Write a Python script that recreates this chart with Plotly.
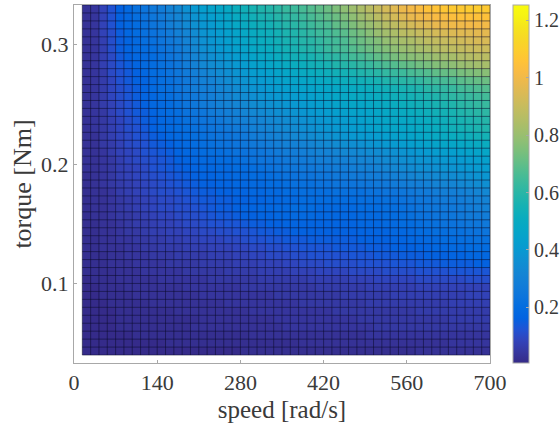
import plotly.graph_objects as go

speed_edges = [14 * i for i in range(1, 51)]
torque_edges = [0.04 + i / 150 for i in range(45)]

x_ticks = [0, 140, 280, 420, 560, 700]
y_ticks = [0.1, 0.2, 0.3]
cbar_ticks = [0.2, 0.4, 0.6, 0.8, 1.0, 1.2]
cbar_labels = ["0.2", "0.4", "0.6", "0.8", "1", "1.2"]

# Cell values in hundredths, listed from the top row (highest torque) downwards
cells_top_down = [
[3,4,8,12,16,19,22,24,26,28,31,33,37,40,43,45,47,49,52,54,56,58,59,61,63,64,66,68,70,72,75,78,81,84,87,90,93,96,99,101,103,105,106,107,108,108,109,109,108],
[3,4,8,12,16,18,21,23,25,27,30,32,35,38,41,43,45,47,50,52,54,56,57,59,61,62,64,66,68,70,72,75,78,81,84,87,90,93,96,98,100,101,102,103,104,105,105,105,105],
[3,4,8,12,16,18,20,22,24,26,29,31,34,37,39,41,44,46,48,50,52,54,55,57,59,60,62,64,66,67,70,72,75,78,80,83,86,88,91,93,95,96,98,99,100,100,101,101,101],
[3,4,8,11,15,18,20,22,23,25,27,30,32,35,38,40,42,44,46,48,50,52,53,55,57,58,60,62,64,65,67,69,72,74,77,80,82,84,87,88,90,91,93,94,95,96,96,97,97],
[3,4,7,11,15,17,19,21,22,24,26,28,31,34,37,39,41,43,45,47,49,51,52,54,56,57,59,60,62,64,65,67,70,72,74,76,79,81,83,84,86,88,89,90,91,92,93,94,94],
[3,4,7,11,15,17,19,20,21,23,25,27,30,33,36,38,40,42,44,46,48,50,51,53,55,56,58,59,61,63,65,66,68,70,72,74,76,78,80,81,83,84,86,87,88,89,90,91,91],
[3,4,7,10,14,16,18,19,20,22,24,26,29,32,34,36,38,40,42,44,46,48,49,51,53,54,55,56,58,60,61,63,65,66,68,70,72,74,76,77,78,79,81,82,83,85,86,87,87],
[3,4,7,10,13,15,17,19,20,22,23,25,28,30,33,35,36,38,40,42,44,45,47,48,50,51,52,54,55,56,58,59,60,62,63,65,67,68,70,71,73,74,76,77,78,80,81,82,83],
[3,4,6,10,12,14,16,18,20,21,23,25,27,29,31,33,35,36,38,40,42,43,44,46,47,48,50,51,52,53,54,55,56,58,59,60,62,63,64,66,67,68,70,71,72,74,75,76,77],
[3,4,6,9,12,14,16,17,19,21,22,24,26,28,30,31,33,35,37,38,40,41,42,44,45,46,47,48,49,50,51,52,53,54,55,56,58,59,60,61,62,64,65,66,67,69,70,71,72],
[3,4,6,9,11,13,15,17,19,21,22,24,26,28,29,30,32,33,35,37,38,39,41,42,43,44,45,46,47,47,48,49,50,51,52,53,54,55,56,57,58,60,61,62,63,65,66,67,68],
[3,4,6,9,11,13,15,17,18,20,21,23,25,26,28,29,31,32,34,35,36,38,39,40,41,42,43,44,45,46,47,48,49,50,50,51,52,53,54,55,56,57,58,60,61,62,63,64,65],
[3,4,6,8,10,12,14,16,18,19,20,22,24,25,27,28,30,31,32,33,35,36,37,38,39,40,41,42,43,44,45,46,47,47,48,49,50,51,52,53,54,55,56,57,58,60,61,62,63],
[3,4,5,8,10,12,14,15,17,19,20,21,23,24,25,27,28,29,30,32,33,34,35,36,37,38,39,40,41,42,43,44,45,45,46,47,48,49,50,51,52,53,54,55,56,58,59,60,61],
[3,4,5,7,9,11,13,15,16,18,19,20,22,23,24,25,26,28,29,30,31,32,33,34,35,36,37,38,39,40,41,42,43,44,45,46,47,48,48,49,50,51,52,53,55,56,57,58,59],
[3,4,5,7,9,11,12,14,16,18,19,20,21,22,23,24,25,26,27,28,30,31,32,33,34,35,36,37,38,39,40,41,42,43,44,45,46,47,47,48,49,50,51,52,54,55,56,57,58],
[3,3,5,7,9,10,12,13,15,16,18,19,20,21,22,23,24,24,25,26,28,29,30,31,32,33,34,35,36,37,38,39,40,41,41,42,43,44,45,46,47,48,49,50,51,52,53,54,55],
[3,3,5,6,8,10,11,12,14,15,16,18,19,20,21,22,23,23,24,25,26,27,28,29,30,30,31,32,33,34,35,36,36,37,38,39,40,41,42,43,44,45,46,47,47,48,49,50,51],
[3,3,4,6,8,9,10,12,13,14,15,17,18,19,20,21,21,22,23,23,24,25,26,27,28,28,29,30,31,31,32,33,33,34,35,35,36,37,38,39,40,41,42,43,43,44,45,46,47],
[3,3,4,5,7,9,10,11,12,13,14,16,17,18,19,19,20,20,21,22,23,24,24,25,26,27,27,28,29,29,30,30,31,32,32,33,34,35,36,37,38,38,39,40,40,41,42,43,44],
[3,3,4,5,7,8,9,10,12,13,14,15,16,17,18,18,19,19,20,20,21,22,23,24,25,25,26,26,27,27,28,28,29,30,30,31,32,33,34,35,36,36,37,38,38,39,40,41,42],
[2,3,4,5,7,8,9,10,11,12,13,14,15,16,17,17,18,18,19,19,20,20,21,22,23,23,24,24,25,25,26,26,27,27,28,28,29,30,31,32,33,33,34,35,35,36,37,38,39],
[2,3,4,5,6,7,8,9,10,11,12,13,14,15,16,16,17,17,18,18,19,19,20,20,21,22,22,22,23,23,24,24,24,25,25,26,26,27,28,29,29,30,31,32,32,33,34,35,36],
[2,3,3,4,6,7,8,9,10,11,11,12,13,14,15,15,16,16,17,17,18,18,19,19,20,20,21,21,21,21,22,22,22,22,23,23,24,24,25,26,27,27,28,29,29,30,31,32,33],
[2,3,3,4,5,6,7,8,9,10,10,11,12,13,14,14,15,15,16,16,17,17,18,18,19,19,20,20,20,20,20,20,20,21,21,21,22,22,23,24,25,25,26,27,27,28,29,30,31],
[2,3,3,4,5,6,7,8,9,10,10,11,11,12,13,14,15,15,16,17,17,18,18,19,19,20,20,20,19,19,19,19,19,20,20,20,21,21,22,23,24,25,25,26,26,27,28,29,30],
[2,3,3,4,5,5,6,7,8,9,9,10,11,11,12,13,14,14,15,16,16,17,17,18,18,19,19,19,18,18,18,18,18,19,19,19,20,20,21,22,23,23,24,25,25,26,27,27,28],
[2,2,3,3,4,5,6,6,7,8,8,9,10,10,11,12,12,13,13,14,15,15,16,16,17,17,17,17,17,17,17,17,17,18,18,18,19,19,20,20,21,22,22,23,23,24,25,25,26],
[2,2,3,3,4,5,5,6,7,7,8,8,9,9,10,10,11,11,12,12,13,14,14,15,15,16,16,16,16,16,16,16,16,17,17,17,17,18,18,19,20,20,21,21,22,22,23,23,24],
[2,2,3,3,4,4,5,5,6,6,7,7,8,8,9,9,9,10,10,11,12,12,13,13,14,14,14,15,15,15,15,15,15,16,16,16,16,17,17,18,18,19,19,20,20,21,21,22,22],
[2,2,3,3,3,4,4,5,5,6,6,6,7,7,7,8,8,8,9,9,10,10,11,11,12,12,13,13,13,13,14,14,14,14,15,15,15,16,16,16,17,17,18,18,19,19,20,20,20],
[2,2,2,3,3,4,4,4,5,5,5,6,6,6,6,7,7,7,8,8,9,9,10,10,10,11,11,12,12,12,12,12,13,13,13,14,14,14,15,15,15,16,16,16,17,17,18,18,18],
[2,2,2,3,3,3,4,4,4,4,5,5,5,5,6,6,6,6,7,7,7,8,8,8,9,9,10,10,10,11,11,11,11,12,12,12,12,13,13,13,14,14,14,15,15,15,15,16,16],
[2,2,2,2,3,3,3,4,4,4,4,4,5,5,5,5,5,6,6,6,6,7,7,7,7,8,8,8,9,9,9,9,10,10,10,10,11,11,11,11,12,12,12,12,13,13,13,13,13],
[1,2,2,2,3,3,3,3,3,4,4,4,4,4,4,5,5,5,5,5,5,6,6,6,6,6,6,7,7,7,7,7,8,8,8,9,9,9,9,9,10,10,10,10,10,10,11,11,11],
[1,1,2,2,2,3,3,3,3,3,3,3,4,4,4,4,4,4,4,5,5,5,5,5,5,5,5,5,6,6,6,6,6,6,7,7,7,7,7,7,8,8,8,8,8,8,8,8,8],
[1,1,2,2,2,2,3,3,3,3,3,3,3,3,4,4,4,4,4,4,4,4,4,5,5,5,5,5,5,5,5,6,6,6,6,6,6,7,7,7,7,7,7,7,7,7,8,8,8],
[1,1,1,2,2,2,2,2,3,3,3,3,3,3,3,3,3,4,4,4,4,4,4,4,4,4,5,5,5,5,5,5,5,5,6,6,6,6,6,6,6,6,6,6,7,7,7,7,7],
[1,1,1,1,2,2,2,2,2,2,2,3,3,3,3,3,3,3,3,3,4,4,4,4,4,4,4,4,4,4,5,5,5,5,5,5,5,5,5,5,6,6,6,6,6,6,6,6,6],
[1,1,1,1,2,2,2,2,2,2,2,2,2,2,3,3,3,3,3,3,3,3,3,4,4,4,4,4,4,4,4,4,4,5,5,5,5,5,5,5,5,5,5,5,6,6,6,6,6],
[1,1,1,1,2,2,2,2,2,2,2,2,2,3,3,3,3,3,3,3,3,3,3,3,4,4,4,4,4,4,4,4,4,4,4,5,5,5,5,5,5,5,5,5,5,5,5,5,5],
[1,1,1,1,1,1,2,2,2,2,2,2,2,2,2,2,2,2,2,2,3,3,3,3,3,3,3,3,3,3,3,3,3,3,4,4,4,4,4,4,4,4,4,4,4,4,4,4,4],
[1,1,1,1,1,1,1,1,1,1,2,2,2,2,2,2,2,2,2,2,2,2,2,2,2,2,3,3,3,3,3,3,3,3,3,3,3,3,3,3,3,3,3,3,4,4,4,4,4],
[1,1,1,1,1,1,1,1,1,1,1,1,1,1,1,1,1,1,1,2,2,2,2,2,2,2,2,2,2,2,2,2,2,2,2,2,2,2,2,2,3,3,3,3,3,3,3,3,3],
]

bad = [(i, len(r)) for i, r in enumerate(cells_top_down) if len(r) != 49]
assert not bad and len(cells_top_down) == 44, (bad, len(cells_top_down))

z = [[v / 100 for v in row] for row in cells_top_down[::-1]]

parula = [
    (0.2081,0.1663,0.5292),(0.2123,0.2138,0.6270),(0.1959,0.2645,0.7279),
    (0.1253,0.3242,0.8303),(0.0117,0.3875,0.8820),(0.0165,0.4266,0.8786),
    (0.0498,0.4586,0.8641),(0.0723,0.4887,0.8467),(0.0793,0.5200,0.8312),
    (0.0641,0.5570,0.8240),(0.0343,0.5966,0.8199),(0.0239,0.6287,0.8038),
    (0.0228,0.6535,0.7768),(0.0384,0.6743,0.7436),(0.0843,0.6928,0.7062),
    (0.1453,0.7098,0.6646),(0.2178,0.7250,0.6193),(0.3022,0.7376,0.5712),
    (0.3953,0.7459,0.5244),(0.4871,0.7491,0.4840),(0.5709,0.7485,0.4494),
    (0.6473,0.7456,0.4188),(0.7184,0.7411,0.3905),(0.7858,0.7356,0.3633),
    (0.8507,0.7299,0.3360),(0.9139,0.7258,0.3063),(0.9739,0.7314,0.2666),
    (0.9990,0.7653,0.2164),(0.9880,0.8066,0.1794),(0.9697,0.8481,0.1475),
    (0.9589,0.8949,0.1132),(0.9661,0.9514,0.0755),(0.9763,0.9831,0.0538),
]
colorscale = [
    [i / (len(parula) - 1), "rgb(%d,%d,%d)" % tuple(round(c * 255) for c in rgb)]
    for i, rgb in enumerate(parula)
]

GREY = "#a8a8a8"
TEXT = "#3a3a3a"
SERIF = "Liberation Serif"

fig = go.Figure()
fig.add_trace(go.Heatmap(
    x=speed_edges, y=torque_edges, z=z,
    colorscale=colorscale, zmin=0.006, zmax=1.254,
    colorbar=dict(
        x=(513 - 74) / 416.3, xanchor="left", xpad=0,
        y=0.5, yanchor="middle", ypad=0,
        len=1, lenmode="fraction", thickness=16, thicknessmode="pixels",
        outlinecolor=GREY, outlinewidth=1,
        tickmode="array", tickvals=cbar_ticks, ticktext=cbar_labels,
        ticks="inside", ticklen=3, tickcolor=GREY, tickwidth=1,
        tickfont=dict(family=SERIF, size=20, color=TEXT),
    ),
))

mesh_x, mesh_y = [], []
for sp in speed_edges:
    mesh_x += [sp, sp, None]
    mesh_y += [torque_edges[0], torque_edges[-1], None]
for tq in torque_edges:
    mesh_x += [speed_edges[0], speed_edges[-1], None]
    mesh_y += [tq, tq, None]
fig.add_trace(go.Scatter(
    x=mesh_x, y=mesh_y, mode="lines",
    line=dict(color="rgba(10,10,40,0.65)", width=0.8),
    hoverinfo="skip", showlegend=False,
))

axis_common = dict(
    showgrid=False, zeroline=False, showline=True, mirror=True,
    linecolor=GREY, linewidth=1, ticks="inside", ticklen=3,
    tickcolor=GREY, tickwidth=1,
    tickfont=dict(family=SERIF, size=22, color=TEXT),
)
fig.update_layout(
    width=560, height=430,
    margin=dict(l=74, r=69.7, t=4.5, b=67, autoexpand=False),
    paper_bgcolor="white", plot_bgcolor="white",
    showlegend=False,
    xaxis=dict(range=[0, 700], tickmode="array", tickvals=x_ticks,
               title=dict(text="speed [rad/s]", standoff=6,
                          font=dict(family=SERIF, size=25, color=TEXT)),
               **axis_common),
    yaxis=dict(range=[1/30, 1/3], tickmode="array", tickvals=y_ticks,
               title=dict(text="torque [Nm]", standoff=1,
                          font=dict(family=SERIF, size=26, color=TEXT)),
               **axis_common),
)
fig.write_html("out.html", post_script="document.body.style.margin='0';",
               config={"displayModeBar": False})
